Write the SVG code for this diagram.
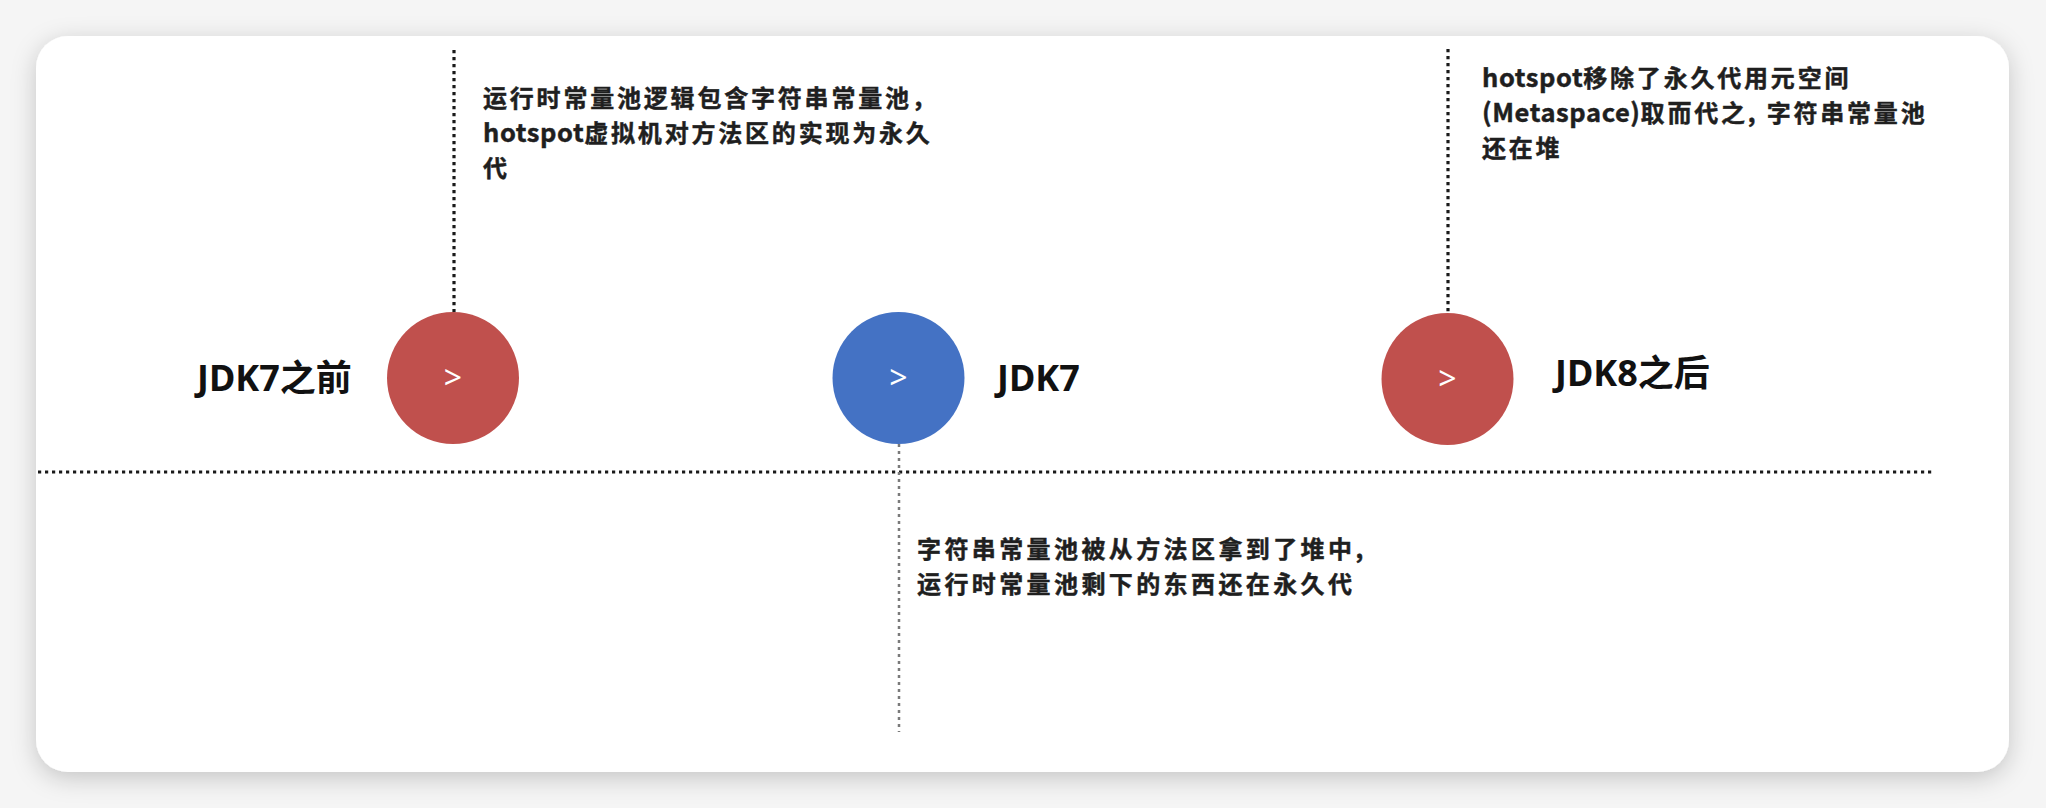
<svg xmlns="http://www.w3.org/2000/svg" width="2046" height="808" viewBox="0 0 2046 808">
  <defs>
    <filter id="shadow" x="-5%" y="-10%" width="110%" height="125%">
      <feDropShadow dx="0" dy="6" stdDeviation="12" flood-color="#000" flood-opacity="0.2"/>
    </filter>
    <style>
      .note { font-family: "Noto Sans CJK SC", "Noto Sans", sans-serif; font-weight: 700; font-size: 24px; fill: #1f1f1f; stroke: #1f1f1f; stroke-width: 0.45px; letter-spacing: 2.8px; }
      .lat { font-size: 25.5px; letter-spacing: 0.6px; }
      .label { font-family: "Noto Sans", "Noto Sans CJK SC", sans-serif; font-weight: 700; font-size: 36px; fill: #111; }
      .chev { font-family: "Noto Sans", sans-serif; font-weight: 400; font-size: 32px; fill: #fff; text-anchor: middle; }
      .dots { stroke: #1a1a1a; stroke-width: 3.2; stroke-dasharray: 3.2 3.8; fill: none; }
      .dashgray { stroke: #7a7a7a; stroke-width: 2.5; stroke-dasharray: 3 4; fill: none; }
      .red { fill: #C0504D; }
      .blue { fill: #4472C4; }
    </style>
  </defs>

  <rect x="0" y="0" width="2046" height="808" fill="#f5f5f5"/>
  <rect id="card" x="36" y="36" width="1973" height="736" rx="32" ry="32" fill="#ffffff" filter="url(#shadow)"/>

  <g id="connectors">
    <line class="dots" x1="38" y1="472" x2="1935" y2="472"/>
    <line class="dots" x1="454" y1="50" x2="454" y2="337"/>
    <line class="dots" x1="1448" y1="49" x2="1448" y2="335"/>
    <line class="dashgray" x1="899" y1="444" x2="899" y2="732"/>
  </g>

  <g id="node-jdk7-before">
    <circle class="red" cx="453" cy="378" r="66"/>
    <text class="chev" x="453" y="389">&gt;</text>
    <text class="label" x="197" y="391">JDK7之前</text>
  </g>

  <g id="node-jdk7">
    <circle class="blue" cx="898.5" cy="378" r="66"/>
    <text class="chev" x="898.5" y="389">&gt;</text>
    <text class="label" x="997" y="391">JDK7</text>
  </g>

  <g id="node-jdk8-after">
    <circle class="red" cx="1447.5" cy="379" r="66"/>
    <text class="chev" x="1447.5" y="390">&gt;</text>
    <text class="label" x="1555" y="386">JDK8之后</text>
  </g>

  <g id="note-jdk7-before">
    <text class="note" x="483" y="107">运行时常量池逻辑包含字符串常量池，<tspan x="483" dy="35"><tspan class="lat">hotspot</tspan>虚拟机对方法区的实现为永久</tspan><tspan x="483" dy="35">代</tspan></text>
  </g>

  <g id="note-jdk8-after">
    <text class="note" x="1482" y="87"><tspan class="lat">hotspot</tspan>移除了永久代用元空间<tspan x="1482" dy="35"><tspan class="lat">(Metaspace)</tspan>取而代之, 字符串常量池</tspan><tspan x="1482" dy="35">还在堆</tspan></text>
  </g>

  <g id="note-jdk7">
    <text class="note" x="917" y="558" style="letter-spacing:3.4px">字符串常量池被从方法区拿到了堆中,<tspan x="917" dy="35">运行时常量池剩下的东西还在永久代</tspan></text>
  </g>
</svg>
